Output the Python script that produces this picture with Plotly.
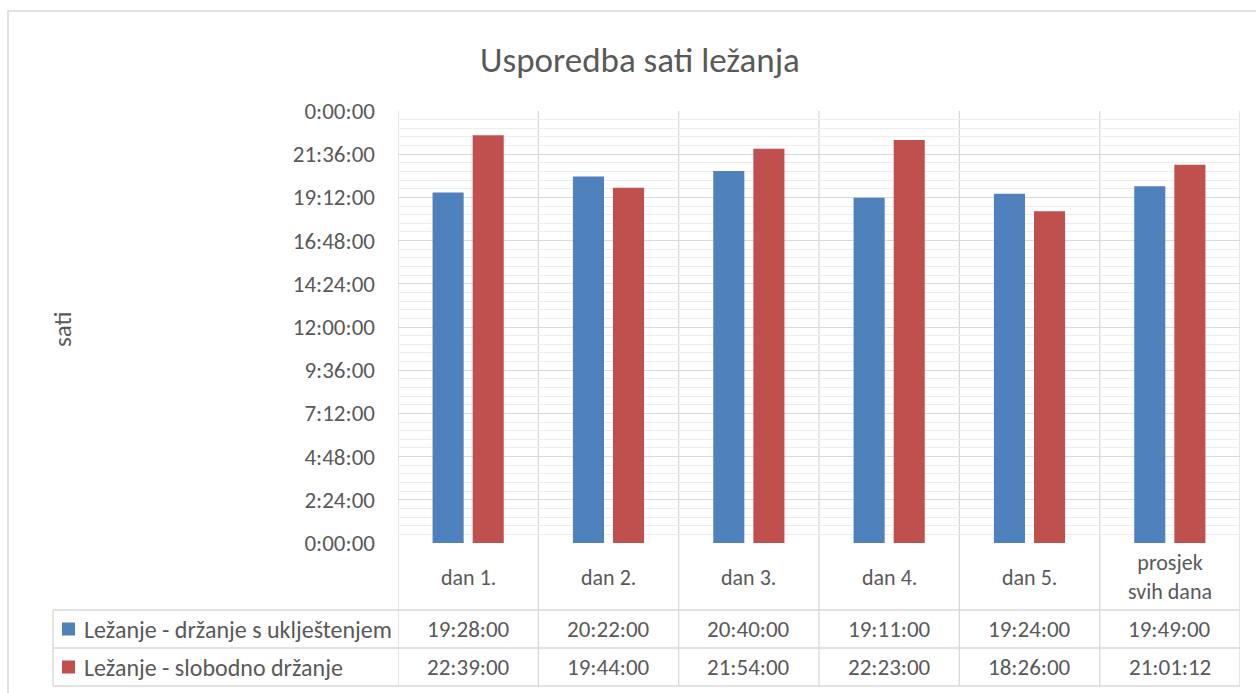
import plotly.graph_objects as go

categories = ["dan 1.", "dan 2.", "dan 3.", "dan 4.", "dan 5.", "prosjek<br>svih dana"]
series_names = ["Ležanje - držanje s uklještenjem", "Ležanje - slobodno držanje"]
series_a = ["19:28:00", "20:22:00", "20:40:00", "19:11:00", "19:24:00", "19:49:00"]
series_b = ["22:39:00", "19:44:00", "21:54:00", "22:23:00", "18:26:00", "21:01:12"]
tick_hours = [0, 2.4, 4.8, 7.2, 9.6, 12, 14.4, 16.8, 19.2, 21.6, 24]
colors = ["#4F81BD", "#C0504D"]
title_text = "Usporedba sati ležanja"
y_title = "sati"

def to_hours(s):
    h, m, sec = [int(v) for v in s.split(":")]
    return h + m / 60 + sec / 3600

def fmt(h):
    total = int(round(h * 3600)) % (24 * 3600)
    return f"{total // 3600}:{(total % 3600) // 60:02d}:{total % 60:02d}"

W, H = 1256, 693
L, R, T, B = 398, 1240, 111, 543
def px(x):
    return (x - L) / (R - L)
def py(y):
    return (B - y) / (B - T)

FONT = "Calibri, Carlito, Lato, sans-serif"
TXT = "#595959"
GRID = "#D9D9D9"

x_idx = list(range(len(categories)))
fig = go.Figure()
for name, vals, c in zip(series_names, [series_a, series_b], colors):
    fig.add_trace(go.Bar(x=x_idx, y=[to_hours(v) for v in vals], name=name,
                         marker=dict(color=c, line=dict(width=0)), showlegend=False,
                         hoverinfo="skip"))

shapes = []
for i in range(len(categories) + 1):
    shapes.append(dict(type="line", xref="x", yref="paper", x0=i - 0.5, x1=i - 0.5,
                       y0=py(686), y1=1, line=dict(color=GRID, width=1.3), layer="below"))
for yy in [610, 648, 686]:
    shapes.append(dict(type="line", xref="paper", yref="paper", x0=px(53), x1=1,
                       y0=py(yy), y1=py(yy), line=dict(color=GRID, width=1.3)))
shapes.append(dict(type="line", xref="paper", yref="paper", x0=px(53), x1=px(53),
                   y0=py(610), y1=py(686), line=dict(color=GRID, width=1.3)))
shapes.append(dict(type="rect", xref="paper", yref="paper", x0=px(8), x1=px(1262),
                   y0=py(700), y1=py(11), line=dict(color=GRID, width=1.5)))
for c, yc in zip(colors, [629, 667]):
    shapes.append(dict(type="rect", xref="paper", yref="paper", x0=px(62), x1=px(75),
                       y0=py(yc + 6.5), y1=py(yc - 6.5), fillcolor=c, line=dict(width=0)))

def A(**kw):
    d = dict(showarrow=False, xanchor="center", yanchor="middle")
    d.update(kw)
    return d

ann = []
ann.append(A(text=title_text, x=px(640), y=py(60), xref="paper", yref="paper",
             font=dict(size=35, color=TXT, family=FONT)))
ann.append(A(text=y_title, x=px(62), y=py(330), xref="paper", yref="paper",
             textangle=-90, font=dict(size=25, color=TXT, family=FONT)))
for i, c in enumerate(categories):
    ann.append(A(text=c, x=i, y=py(577), xref="x", yref="paper",
                 font=dict(size=22, color=TXT, family=FONT)))
for name, vals, yc in zip(series_names, [series_a, series_b], [629, 667]):
    ann.append(A(text=name, x=px(82), y=py(yc), xref="paper", yref="paper",
                 xanchor="left", font=dict(size=24, color=TXT, family=FONT)))
    for i, v in enumerate(vals):
        ann.append(A(text=v, x=i, y=py(yc), xref="x", yref="paper",
                     font=dict(size=23, color=TXT, family=FONT)))

fig.update_layout(
    width=W, height=H,
    margin=dict(l=L, r=W - R, t=T, b=H - B),
    paper_bgcolor="white", plot_bgcolor="white",
    barmode="group", bargap=0.4286, bargroupgap=0.225,
    shapes=shapes, annotations=ann,
    xaxis=dict(range=[-0.5, len(categories) - 0.5], showticklabels=False, showgrid=False,
               zeroline=False, showline=False, fixedrange=True),
    yaxis=dict(range=[0, 24], tickvals=tick_hours, ticktext=[fmt(h) for h in tick_hours],
               showgrid=True, gridcolor=GRID, gridwidth=1.3, zeroline=False, fixedrange=True,
               tickfont=dict(size=23, color=TXT, family=FONT), ticks="", ticklabelstandoff=22,
               minor=dict(tickvals=[i * 0.48 for i in range(51)], showgrid=True,
                          gridcolor="#EDEDED", gridwidth=1)),
)
fig.write_html("out.html", config={"displayModeBar": False},
               post_script="document.body.style.margin='0px';")
